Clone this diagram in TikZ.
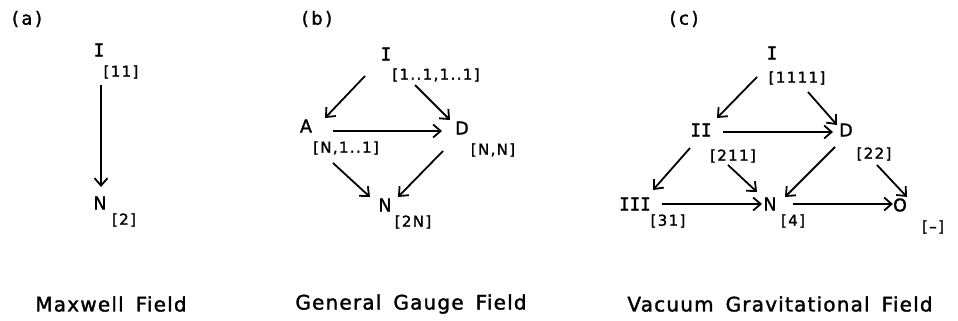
\documentclass[tikz,border=0pt]{standalone}
\usepackage{fontspec}
\setmainfont[FakeBold=1.6]{DejaVu Sans}
\newfontfamily\barfont[FakeBold=1.6]{DejaVu Sans Mono}
\newfontfamily\subfont[LetterSpace=9,FakeBold=1.6]{DejaVu Sans}
\newfontfamily\capfont[LetterSpace=6,FakeBold=1.6]{DejaVu Sans}
\newfontfamily\tagfont[LetterSpace=14,FakeBold=1.6]{DejaVu Sans}
\usetikzlibrary{arrows.meta,calc}

\begin{document}
\begin{tikzpicture}[x=1pt,y=-1pt,
  vtx/.style={inner sep=0pt, font=\fontsize{17.5}{19}\selectfont},
  sub/.style={inner sep=0pt, font=\subfont\fontsize{15}{17}\selectfont},
  caption/.style={inner sep=0pt, font=\capfont\fontsize{20}{22}\selectfont},
  paneltag/.style={inner sep=0pt, font=\tagfont\fontsize{18}{20}\selectfont},
  arr/.style={-{Straight Barb[length=7.5pt,width=13pt]}, line width=1.8pt}]
\useasboundingbox (0,0) rectangle (958,321);

% ---------- (a) Maxwell field ----------
\node[paneltag] (ta) at (27,19) {(a)};
\node[vtx] (Ia) at (99,50) {\barfont I};
\node[sub] (sIa) at (121,72) {[11]};
\node[vtx] (Na) at (100,203) {N};
\node[sub] (sNa) at (124,220) {[2]};
\draw[arr] ($(Ia)+(2,35)$) -- ($(Na)+(1,-16)$);
\node[caption] (ca) at (111,304) {Maxwell\hspace{12pt}Field};

% ---------- (b) general gauge field ----------
\node[paneltag] (tb) at (317,19) {(b)};
\node[vtx] (Ib) at (386,54) {\barfont I};
\node[sub] (sIb) at (436,75) {[1..1,1..1]};
\node[vtx] (Ab) at (306,126) {A};
\node[sub] (sAb) at (346,148) {[N,1..1]};
\node[vtx] (Db) at (462,128) {D};
\node[sub] (sDb) at (493,150) {[N,N]};
\node[vtx] (Nb) at (385,205) {N};
\node[sub] (sNb) at (413,222) {[2N]};
\draw[arr] ($(Ib)+(-21,22)$) -- ($(Ab)+(19,-8)$);
\draw[arr] ($(Ib)+(29,31)$) -- ($(Db)+(-12,-8)$);
\draw[arr] ($(Ab)+(27,5)$) -- ($(Db)+(-20,3)$);
\draw[arr] ($(Db)+(-19,23)$) -- ($(Nb)+(13,-8)$);
\draw[arr] ($(Ab)+(27,37)$) -- ($(Nb)+(-15,-8)$);
\node[caption] (cb) at (411,304) {General\hspace{12pt}Gauge\hspace{12pt}Field};

% ---------- (c) vacuum gravitational field ----------
\node[paneltag] (tc) at (684,19) {(c)};
\node[vtx] (Ic) at (772,53) {\barfont I};
\node[sub] (sIc) at (797,78) {[1111]};
\node[vtx] (IIc) at (701,130) {\barfont II};
\node[sub] (sIIc) at (733,156) {[211]};
\node[vtx] (Dc) at (846,130) {D};
\node[sub] (sDc) at (874,154) {[22]};
\node[vtx] (IIIc) at (635,204) {\barfont III};
\node[sub] (sIIIc) at (668,221) {[31]};
\node[vtx] (Nc) at (770,204) {N};
\node[sub] (sNc) at (793,221) {[4]};
\node[vtx] (Oc) at (900,205) {O};
\node[sub] (sOc) at (933,227) {[–]};
\draw[arr] ($(Ic)+(-15,24)$) -- ($(IIc)+(16,-12)$);
\draw[arr] ($(Ic)+(36,39)$) -- ($(Dc)+(-9,-5)$);
\draw[arr] ($(IIc)+(22,2)$) -- ($(Dc)+(-13,2)$);
\draw[arr] ($(IIc)+(-11,18)$) -- ($(IIIc)+(18,-14)$);
\draw[arr] ($(IIc)+(27,35)$) -- ($(Nc)+(-13,-12)$);
\draw[arr] ($(Dc)+(-11,17)$) -- ($(Nc)+(15,-7)$);
\draw[arr] ($(Dc)+(31,35)$) -- ($(Oc)+(7,-8)$);
\draw[arr] ($(IIIc)+(27,0)$) -- ($(Nc)+(-8,0)$);
\draw[arr] ($(Nc)+(23,0)$) -- ($(Oc)+(-7,-1)$);
\node[caption] (cc) at (780,304) {Vacuum\hspace{12pt}Gravitational\hspace{12pt}Field};
\end{tikzpicture}
\end{document}
